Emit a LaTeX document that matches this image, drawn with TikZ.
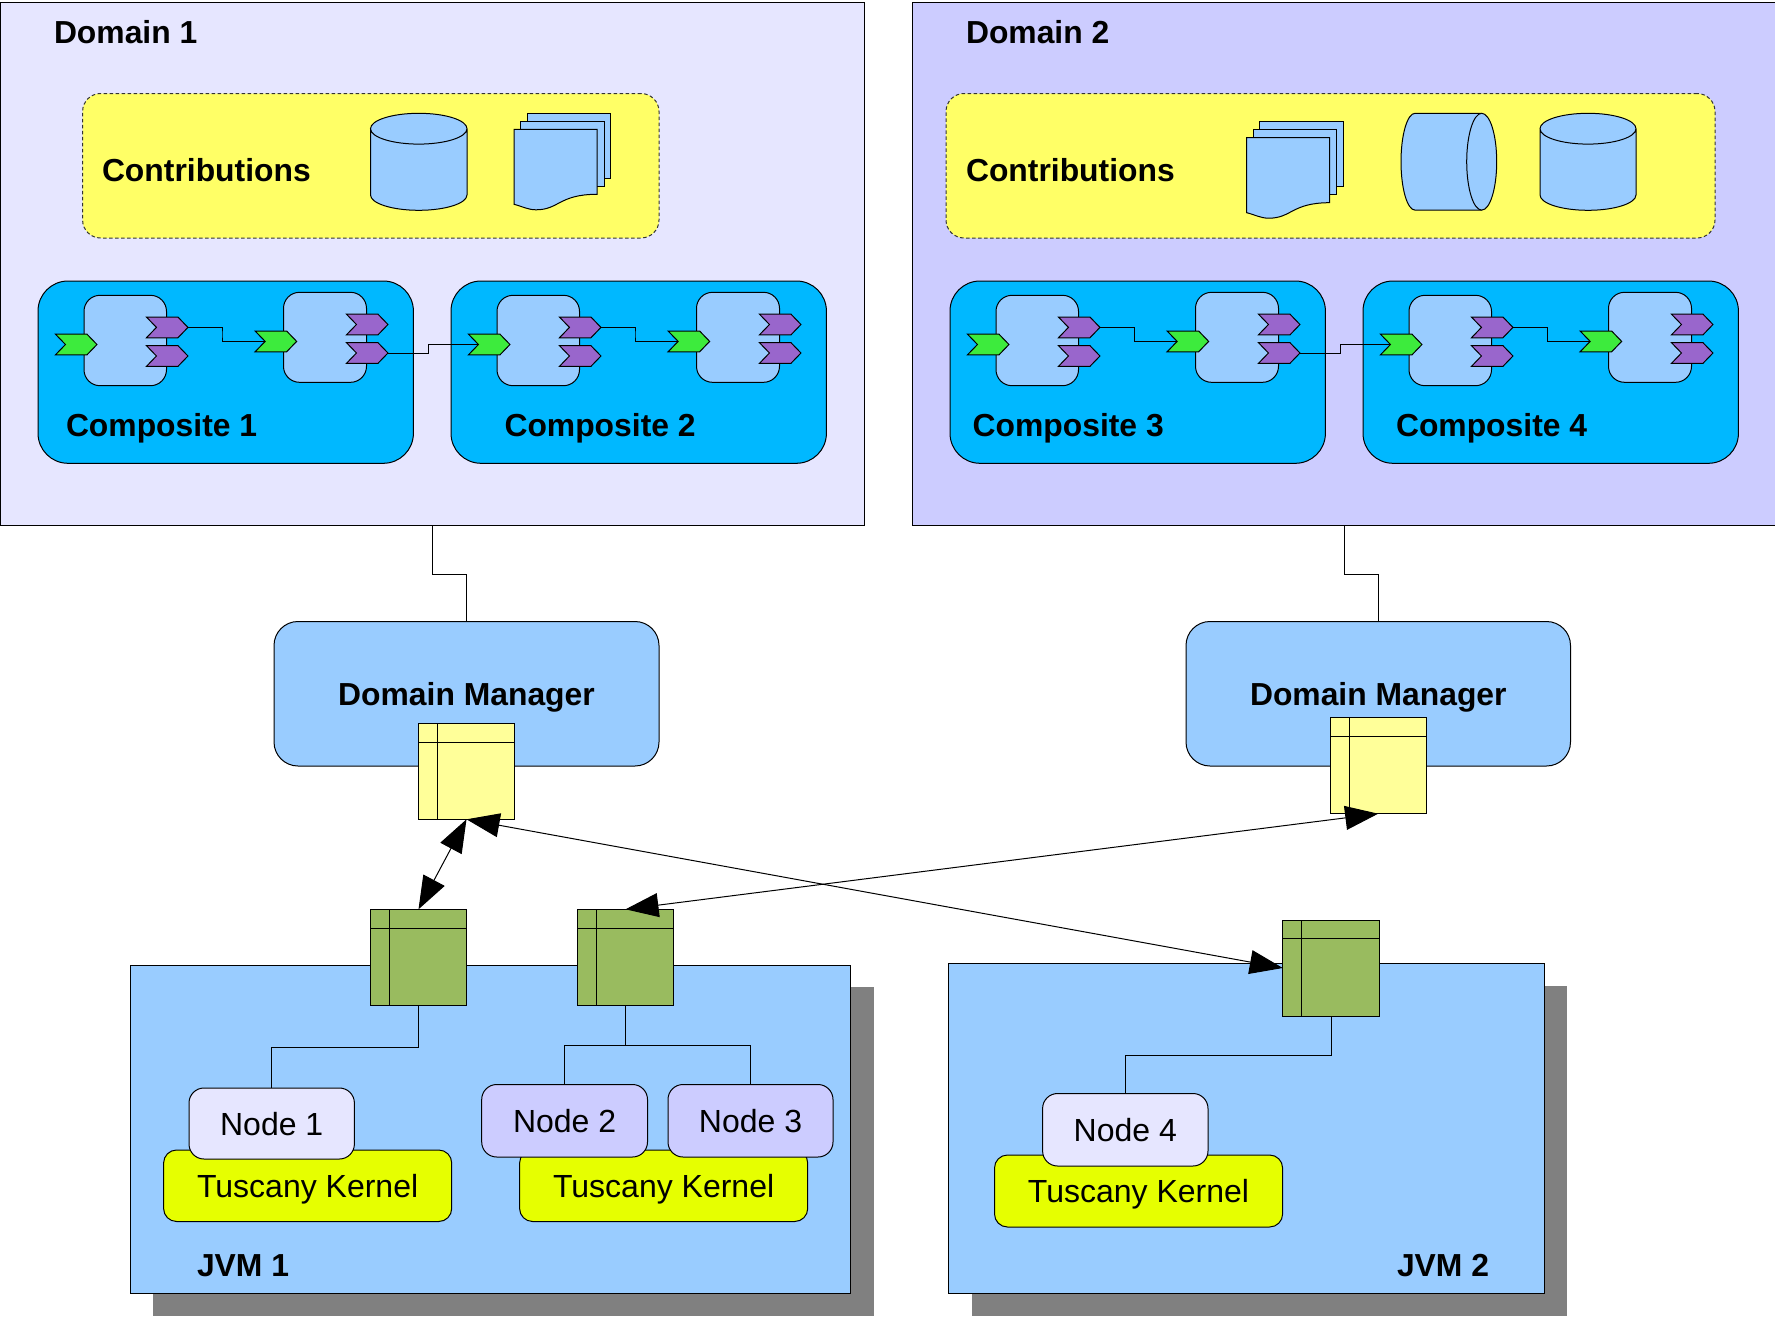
\documentclass[tikz,border=0pt]{standalone}
\usepackage{fontspec}
\setmainfont{Liberation Sans}
\usetikzlibrary{arrows.meta,shapes.symbols,backgrounds}
\pgfdeclarelayer{bg}
\pgfdeclarelayer{conn}
\pgfsetlayers{bg,conn,main}
\definecolor{dOne}{HTML}{E6E6FF}
\definecolor{dTwo}{HTML}{CCCCFF}
\definecolor{contrib}{HTML}{FFFF66}
\definecolor{lblue}{HTML}{99CCFF}
\definecolor{compo}{HTML}{00B8FF}
\definecolor{chevg}{HTML}{3DEB3D}
\definecolor{chevp}{HTML}{9966CC}
\definecolor{noteY}{HTML}{FFFF99}
\definecolor{noteG}{HTML}{99BB5F}
\definecolor{kern}{HTML}{E6FF00}
\definecolor{shade}{HTML}{808080}
\tikzset{
  every node/.style={font=\fontsize{32}{36}\selectfont, inner sep=0pt, outer sep=0pt},
  ln/.style={draw=black, line width=1pt},
  wire/.style={ln, line join=miter},
  domainbox/.style={ln, rectangle},
  contribbox/.style={draw=black!80, line width=1pt, dash pattern=on 3.5pt off 2.5pt, fill=contrib, rounded corners=18pt},
  compbox/.style={ln, fill=compo, rounded corners=30pt},
  innerbox/.style={ln, fill=lblue, rounded corners=16pt},
  mgrbox/.style={ln, fill=lblue, rounded corners=24pt},
  jvmbox/.style={ln, fill=lblue},
  shadowbox/.style={fill=shade},
  nodebox/.style={ln, rounded corners=15pt, text height=23pt, text depth=0pt},
  kernbox/.style={ln, fill=kern, rounded corners=13pt, text height=23pt, text depth=0pt},
  notebox/.style={ln},
  symb/.style={ln, fill=lblue, line join=miter},
  bold/.style={font=\fontsize{31.85}{36}\selectfont\bfseries, anchor=base west},
  chev/.style={ln, signal, signal to=east, signal from=west, signal pointer angle=92,
     minimum width=41.5pt, minimum height=20.7pt},
  ingreen/.style={chev, fill=chevg},
  outpurple/.style={chev, fill=chevp},
  twoway/.style={draw=black, line width=1pt, {Triangle[length=33pt,width=24pt]}-{Triangle[length=33pt,width=24pt]}},
}
% optional style, name, x1, y1, x2, y2, text
\newcommand{\bx}[7][]{%
  \pgfmathsetmacro{\bxw}{(#5)-(#3)}\pgfmathsetmacro{\bxh}{(#6)-(#4)}%
  \pgfmathsetmacro{\bxcx}{((#3)+(#5))/2}\pgfmathsetmacro{\bxcy}{((#4)+(#6))/2}%
  \node[#1, rectangle, minimum width=\bxw pt, minimum height=\bxh pt] (#2) at (\bxcx,\bxcy) {#7};}
% id, x offset, title, title x
\newcommand{\composite}[4]{%
  \begin{pgfonlayer}{bg}
  \bx[compbox]{#1box}{#2+38}{281}{#2+413.4}{463.3}{}
  \bx[innerbox]{#1a}{#2+84}{295.3}{#2+166.5}{385.7}{}
  \bx[innerbox]{#1b}{#2+283.5}{292.3}{#2+366.5}{382.3}{}
  \end{pgfonlayer}
  \node[ingreen] (#1ain) at (#2+76.2,344.5) {};
  \node[outpurple] (#1ao) at (#2+167.2,327.4) {};
  \node[outpurple] (#1ap) at (#2+167.2,356) {};
  \node[ingreen] (#1bin) at (#2+275.9,341.4) {};
  \node[outpurple] (#1bo) at (#2+367.2,324.5) {};
  \node[outpurple] (#1bp) at (#2+367.2,353) {};
  \coordinate (#1mid) at (#2+222,0);
  \begin{pgfonlayer}{conn}
  \draw[wire] (#1ao.east) -| (#1mid |- 0,334.5) |- (#1bin.west);
  \end{pgfonlayer}
  \node[bold] (#1t) at (#4,436) {#3};
}
% cylinder upright: x1, y1, x2, y2, ry
\newcommand{\upcyl}[5]{%
  \pgfmathsetmacro{\rxx}{(#3-#1)/2}%
  \draw[symb] (#1,#2+#5) -- (#1,#4-#5) arc[start angle=180,end angle=0,x radius=\rxx,y radius=#5]
     -- (#3,#2+#5) arc[start angle=0,end angle=-180,x radius=\rxx,y radius=#5]
     arc[start angle=180,end angle=0,x radius=\rxx,y radius=#5];}
% document stack: x y of front top left
\newcommand{\docstack}[2]{%
  \draw[symb] (#1+13,#2-16) rectangle (#1+96.5,#2+48.7);
  \draw[symb] (#1+6.5,#2-8) rectangle (#1+90,#2+56.7);
  \draw[symb] (#1,#2) -- (#1+83,#2) -- (#1+83,#2+65)
     .. controls (#1+45,#2+65) and (#1+45,#2+80.5) .. (#1+22,#2+80.5)
     .. controls (#1+14,#2+80.5) and (#1+8,#2+77) .. (#1,#2+75) -- cycle;}
% sticky table: name, x1, y1, colour
\newcommand{\stickytab}[4]{%
  \node[notebox, fill=#4, rectangle, minimum width=96.4pt, minimum height=96pt] (#1) at (#2+48.2,#3+48) {};
  \draw[ln] (#2+19,#3) -- (#2+19,#3+96);
  \draw[ln] (#2,#3+18.7) -- (#2+96.4,#3+18.7);}
\begin{document}
\begin{tikzpicture}[x=1pt,y=-1pt]
\useasboundingbox (0,0) rectangle (1775,1317);
\begin{pgfonlayer}{bg}
  \fill[white] (0,0) rectangle (1775,1317);
  \bx[domainbox, fill=dOne]{dom1}{0.5}{2}{864}{525.5}{}
  \bx[domainbox, fill=dTwo]{dom2}{912.5}{2}{1776}{525.5}{}
  \bx[contribbox]{con1}{82.6}{93.5}{659}{238}{}
  \bx[contribbox]{con2}{946}{93.5}{1715}{238}{}
  \upcyl{370.5}{113.3}{467}{210.3}{15.4}
  \docstack{514}{129.3}
  \docstack{1246.7}{137.7}
  \draw[symb] (1415,113.3) -- (1481.7,113.3) arc[start angle=-90,end angle=90,x radius=15,y radius=48.4]
     -- (1415,210.1) arc[start angle=90,end angle=270,x radius=14,y radius=48.4];
  \draw[symb] (1481.7,113.3) arc[start angle=270,end angle=90,x radius=15,y radius=48.4];
  \upcyl{1540}{113.3}{1636}{210.3}{15.4}
  \bx[mgrbox]{mgr1}{274}{621.5}{659}{766}{}
  \bx[mgrbox]{mgr2}{1186}{621.5}{1570.5}{766}{}
  \bx[shadowbox]{jvm1s}{153}{987}{874}{1316}{}
  \bx[jvmbox]{jvm1}{130.5}{965}{850.5}{1293}{}
  \bx[shadowbox]{jvm2s}{971.5}{986}{1567}{1316}{}
  \bx[jvmbox]{jvm2}{948.7}{963.5}{1544}{1293}{}
  \bx[kernbox]{k1}{163.6}{1150}{451.7}{1221.5}{Tuscany Kernel}
  \bx[kernbox]{k2}{519.6}{1150}{807.7}{1221.5}{Tuscany Kernel}
  \bx[kernbox]{k3}{994.5}{1155}{1282.6}{1227}{Tuscany Kernel}
  \bx[nodebox, fill=dOne]{n1}{189}{1088}{354.4}{1159}{Node 1}
  \bx[nodebox, fill=dTwo]{n2}{481.7}{1084.5}{647.5}{1157}{Node 2}
  \bx[nodebox, fill=dTwo]{n3}{668}{1084.5}{833}{1157}{Node 3}
  \bx[nodebox, fill=dOne]{n4}{1042.6}{1093.5}{1208}{1166}{Node 4}
\end{pgfonlayer}
\node[bold] (d1t) at (54,43) {Domain 1};
\node[bold] (d2t) at (966,43) {Domain 2};
\node[bold] (c1t) at (102,181) {Contributions};
\node[bold] (c2t) at (966,181) {Contributions};
\composite{p}{0}{Composite 1}{66}
\composite{q}{413}{Composite 2}{504.5}
\composite{r}{912}{Composite 3}{972.6}
\composite{s}{1325}{Composite 4}{1396}
\coordinate (pqm) at (428.6,0);
\coordinate (rsm) at (1340.6,0);
\begin{pgfonlayer}{conn}
  \draw[wire] (pbp.east) -| (pqm |- 0,348) |- (qain.west);
  \draw[wire] (rbp.east) -| (rsm |- 0,348) |- (sain.west);
\end{pgfonlayer}
\node[bold, anchor=base] (m1t) at (466.5,705) {Domain Manager};
\node[bold, anchor=base] (m2t) at (1378.3,705) {Domain Manager};
\node[bold] (j1t) at (197,1276) {JVM 1};
\node[bold] (j2t) at (1397,1276) {JVM 2};
\stickytab{y1}{418.3}{723.3}{noteY}
\stickytab{y2}{1330}{717.7}{noteY}
\stickytab{g1}{370.3}{909.3}{noteG}
\stickytab{g2}{577.3}{909.3}{noteG}
\stickytab{g3}{1282.8}{920}{noteG}
\begin{pgfonlayer}{conn}
  \draw[wire] (432.5,525) -- (432.5,574) -| (mgr1.north);
  \draw[wire] (1344.8,525) -- (1344.8,574) -| (mgr2.north);
  \draw[wire] (g1.south) |- (271.7,1047) -- (n1.north);
  \draw[wire] (g2.south) -- (625.5,1045);
  \draw[wire] (n2.north) |- (625.5,1045) -| (n3.north);
  \draw[wire] (g3.south) |- (n4.north |- 0,1055) -- (n4.north);
\end{pgfonlayer}
\draw[twoway] (y1.south) -- (g1.north);
\draw[twoway] (y1.south) -- (g3.west);
\draw[twoway] (y2.south) -- (g2.north);
\end{tikzpicture}
\end{document}
